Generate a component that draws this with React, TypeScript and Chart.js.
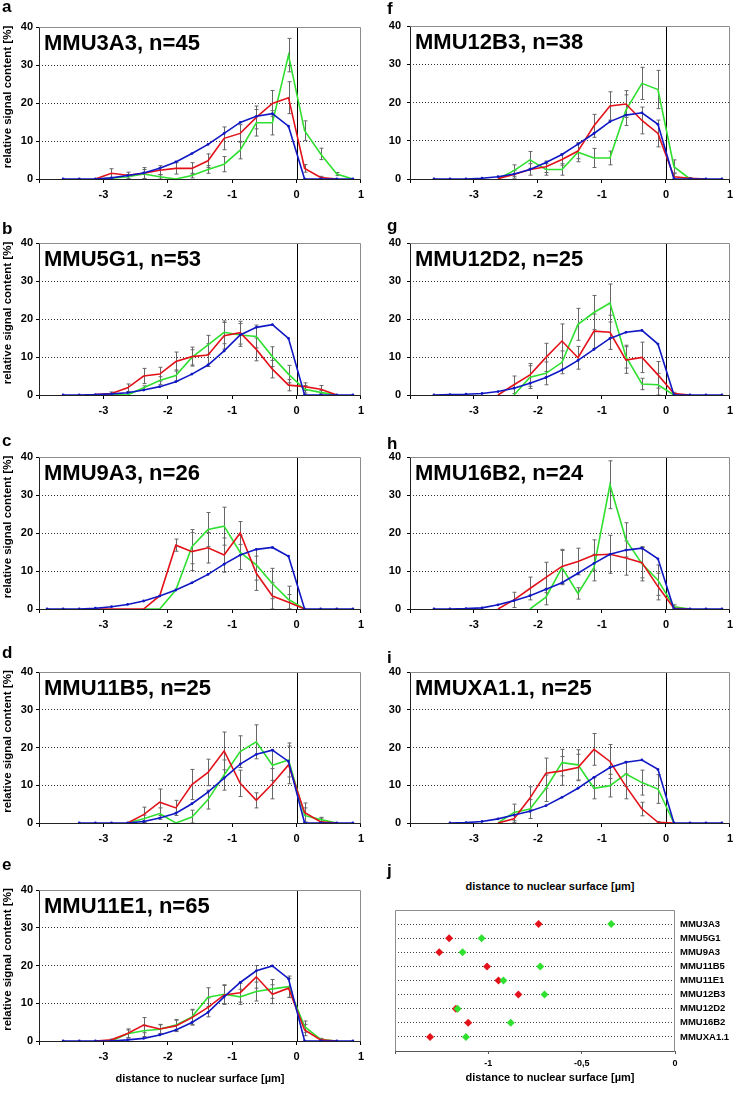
import React, { useEffect, useRef } from 'react';
import { Chart, registerables } from 'chart.js';
Chart.register(...registerables);

const FONT = '"Liberation Sans", Arial, Helvetica, sans-serif';
const RED = '#e3121a';
const GREEN = '#30e030';
const BLUE = '#1018c4';
const ERR_COLOR = '#666666';

// bin centres (µm), shared x positions of all profile points
const binCenters = [-3.875, -3.625, -3.375, -3.125, -2.875, -2.625, -2.375, -2.125, -1.875, -1.625, -1.375, -1.125, -0.875, -0.625, -0.375, -0.125, 0.125, 0.375, 0.625, 0.875];
const yTickValues = [0, 10, 20, 30, 40];
const xTickLabels = ['-3', '-2', '-1', '0', '1'];

const titles: Record<string, string> = {
  a: 'MMU3A3, n=45', b: 'MMU5G1, n=53', c: 'MMU9A3, n=26', d: 'MMU11B5, n=25', e: 'MMU11E1, n=65',
  f: 'MMU12B3, n=38', g: 'MMU12D2, n=25', h: 'MMU16B2, n=24', i: 'MMUXA1.1, n=25',
};

// ---- panel a
const aBlue = [null, 0, 0, 0, 0.3, 0.9, 1.6, 2.8, 4.5, 6.7, 9.1, 12.0, 14.9, 16.5, 17.2, 13.9, 0, 0, 0, 0];
const aRed = [null, null, null, 0, 1.5, 1.0, 1.5, 2.3, 2.8, 2.8, 4.8, 10.7, 12.0, 16.2, 19.9, 21.4, 2.8, 0.4, 0, null];
const aGreen = [null, null, null, 0, 0.2, 0.6, 1.3, 0.6, 0, 0.9, 2.5, 3.9, 7.6, 14.8, 14.8, 32.6, 12.7, 6.6, 1.3, 0];
const aRedErr = [0, 0, 0, 0, 1.2, 0.8, 1.5, 1.2, 1.5, 1.5, 1.8, 3.0, 2.3, 3.0, 3.4, 4.2, 1.0, 0.3, 0, 0];
const aGreenErr = [0, 0, 0, 0, 0, 0.6, 1.2, 0.6, 0, 0.6, 1.0, 2.0, 2.3, 3.5, 3.2, 4.4, 2.6, 1.5, 0.4, 0];
// ---- panel b
const bBlue = [null, 0, 0, 0.1, 0.3, 0.6, 1.3, 2.2, 3.5, 5.5, 7.9, 11.6, 15.8, 17.8, 18.5, 14.9, 0, 0, 0, 0];
const bRed = [null, null, null, 0.1, 0.4, 1.9, 5.0, 5.5, 8.8, 10.1, 10.5, 15.6, 16.4, 12.0, 6.8, 2.6, 2.2, 1.5, 0, null];
const bGreen = [null, null, null, null, 0.1, 0, 1.9, 3.8, 5.1, 9.9, 13.2, 16.5, 15.8, 15.4, 10.1, 5.5, 1.5, 0.7, 0, null];
const bRedErr = [0, 0, 0, 0, 0.4, 1.0, 2.0, 1.8, 2.5, 2.5, 3.0, 3.5, 3.0, 3.0, 2.3, 1.5, 1.0, 1.0, 0, 0];
const bGreenErr = [0, 0, 0, 0, 0, 0, 0.5, 1.0, 1.5, 2.0, 2.5, 3.0, 3.0, 3.0, 2.6, 2.3, 1.0, 0.5, 0, 0];
// ---- panel c
const cBlue = [0, 0, 0, 0.2, 0.6, 1.2, 2.1, 3.4, 5.0, 6.9, 9.1, 11.8, 14.2, 15.7, 16.2, 13.9, 0, 0, 0, 0];
const cRed = [null, null, null, 0, 0, 0, 0, 3.5, 16.8, 15.1, 16.1, 14.2, 20.0, 9.4, 3.4, 1.8, 0, null, null, null];
const cGreen = [null, null, null, null, null, null, 0, 0, 5.0, 16.4, 20.9, 21.8, 14.9, 11.6, 6.7, 2.5, 0, null, null, null];
const cRedErr = [0, 0, 0, 0, 0, 0, 0, 0, 1.6, 5.0, 4.0, 4.5, 3.0, 4.5, 3.5, 2.0, 0, 0, 0, 0];
const cGreenErr = [0, 0, 0, 0, 0, 0, 0, 0, 0, 4.5, 4.5, 5.0, 4.5, 4.0, 4.0, 3.5, 0, 0, 0, 0];
// ---- panel d
const dBlue = [null, null, 0, 0, 0, 0, 0.4, 1.3, 2.6, 5.1, 8.2, 11.9, 15.6, 18.2, 19.3, 16.3, 0, 0, 0, 0];
const dRed = [null, null, null, null, null, 0, 2.2, 5.5, 4.0, 10.2, 13.4, 19.1, 10.5, 6.0, 10.4, 15.4, 2.8, 0.3, 0, null];
const dGreen = [null, null, null, null, null, 0, 1.1, 2.5, 0, 1.6, 6.2, 12.7, 18.9, 21.5, 15.3, 16.7, 2.0, 0.9, 0, null];
const dRedErr = [0, 0, 0, 0, 0, 0, 2.0, 3.5, 2.0, 4.0, 3.5, 5.0, 3.5, 2.0, 4.0, 5.0, 2.5, 1.0, 0, 0];
const dGreenErr = [0, 0, 0, 0, 0, 0, 1.0, 1.5, 0, 1.8, 2.5, 4.0, 4.2, 4.5, 4.0, 4.5, 2.0, 0.6, 0, 0];
// ---- panel e
const eBlue = [null, 0, 0, 0, 0, 0.3, 0.7, 1.6, 2.9, 4.9, 7.6, 11.7, 15.5, 18.6, 19.9, 16.5, 0, 0, 0, 0];
const eRed = [null, null, null, 0, 0.3, 2.0, 4.2, 3.2, 4.0, 6.2, 8.9, 12.2, 12.8, 17.0, 12.4, 14.0, 2.9, 0.3, 0, null];
const eGreen = [null, null, null, null, 0, 1.9, 2.7, 3.1, 4.2, 6.4, 11.6, 12.4, 11.7, 13.1, 13.8, 14.4, 3.8, 0.4, 0, null];
const eRedErr = [0, 0, 0, 0, 0.2, 1.2, 2.0, 1.2, 1.5, 2.0, 2.5, 2.5, 2.5, 3.0, 2.5, 2.5, 1.5, 0.2, 0, 0];
const eGreenErr = [0, 0, 0, 0, 0, 1.0, 1.5, 1.2, 1.5, 2.0, 2.5, 2.5, 2.0, 2.5, 2.5, 2.8, 1.5, 0.3, 0, 0];
// ---- panel f
const fBlue = [null, 0, 0, 0, 0.2, 0.6, 1.3, 2.5, 4.3, 6.4, 9.1, 11.9, 15.0, 16.7, 17.3, 14.3, 0, 0, 0, 0];
const fRed = [null, null, null, null, null, 0.1, 1.2, 2.5, 3.2, 5.1, 7.3, 13.9, 19.1, 19.6, 15.3, 11.9, 0.6, 0.2, 0, null];
const fGreen = [null, null, null, null, null, 0, 2.2, 5.0, 2.5, 2.5, 7.0, 5.5, 5.5, 18.0, 25.0, 23.4, 3.2, 0, null, null];
const fRedErr = [0, 0, 0, 0, 0, 0, 1.0, 1.5, 1.5, 1.5, 2.0, 3.0, 3.7, 3.5, 3.5, 3.5, 1.0, 0.2, 0, 0];
const fGreenErr = [0, 0, 0, 0, 0, 0, 1.5, 2.2, 1.5, 1.5, 2.5, 2.5, 1.8, 4.0, 4.2, 5.0, 1.8, 0, 0, 0];
// ---- panel g
const gBlue = [null, 0, 0.1, 0.2, 0.4, 0.9, 1.8, 3.1, 4.6, 6.6, 9.1, 12.0, 14.9, 16.5, 17.0, 13.4, 0, 0, 0, 0];
const gRed = [null, null, null, null, null, 0, 2.7, 5.3, 9.9, 14.2, 9.8, 16.8, 16.5, 9.2, 9.9, 5.3, 0.4, 0, null, null];
const gGreen = [null, null, null, null, null, null, 0, 4.7, 5.7, 8.6, 18.6, 21.7, 24.2, 10.1, 2.9, 2.7, 0, null, null, null];
const gRedErr = [0, 0, 0, 0, 0, 0, 2.3, 3.0, 3.7, 4.5, 3.0, 4.5, 4.5, 3.5, 4.0, 3.5, 0.3, 0, 0, 0];
const gGreenErr = [0, 0, 0, 0, 0, 0, 0, 3.0, 3.0, 3.0, 4.2, 4.5, 5.0, 3.0, 1.5, 3.0, 0, 0, 0, 0];
// ---- panel h
const hBlue = [null, 0, 0, 0.1, 0.3, 1.1, 2.2, 3.5, 5.2, 6.9, 9.4, 12.0, 14.4, 15.5, 16.0, 13.2, 0, 0, 0, 0];
const hRed = [null, null, null, null, null, 0, 2.4, 5.4, 8.3, 11.2, 12.5, 14.2, 14.4, 13.4, 12.2, 5.9, 0.2, 0, null, null];
const hGreen = [null, null, null, null, null, null, null, 0, 3.1, 10.9, 4.1, 10.9, 32.7, 18.2, 11.9, 7.6, 0.6, 0, null, null];
const hRedErr = [0, 0, 0, 0, 0, 0, 2.0, 3.0, 4.0, 4.5, 3.5, 4.0, 5.0, 4.5, 4.0, 3.5, 0.3, 0, 0, 0];
const hGreenErr = [0, 0, 0, 0, 0, 0, 0, 0, 2.0, 4.5, 1.5, 3.5, 6.3, 4.5, 4.5, 4.0, 0.5, 0, 0, 0];
// ---- panel i
const iBlue = [null, null, 0, 0.1, 0.4, 1.1, 2.1, 3.1, 4.6, 6.8, 9.2, 12.1, 14.7, 16.1, 16.7, 14.2, 0, 0, 0, 0];
const iRed = [null, null, null, null, null, 0, 1.1, 6.6, 13.2, 13.8, 14.7, 19.5, 16.3, 9.7, 3.7, 0.2, 0, null, null, null];
const iGreen = [null, null, null, null, null, 0, 2.8, 3.7, 9.2, 16.0, 15.4, 9.2, 9.9, 13.0, 10.7, 9.0, 0, null, null, null];
const iRedErr = [0, 0, 0, 0, 0, 0, 1.0, 3.0, 4.0, 3.8, 3.5, 4.2, 4.5, 3.3, 1.8, 0.2, 0, 0, 0, 0];
const iGreenErr = [0, 0, 0, 0, 0, 0, 2.2, 2.5, 3.5, 3.5, 4.0, 2.8, 3.0, 3.3, 3.3, 3.8, 0, 0, 0, 0];

// ---- panel j (median distances)
const jCategories = ['MMU3A3', 'MMU5G1', 'MMU9A3', 'MMU11B5', 'MMU11E1', 'MMU12B3', 'MMU12D2', 'MMU16B2', 'MMUXA1.1'];
const jRed = [-0.731, -1.210, -1.263, -1.007, -0.946, -0.839, -1.174, -1.108, -1.312];
const jGreen = [-0.342, -1.036, -1.138, -0.722, -0.919, -0.699, -1.165, -0.880, -1.120];
const xAxisTitle = 'distance to nuclear surface [µm]';
const yAxisTitle = 'relative signal content [%]';

const seriesByPanel: Record<string, any> = {
  a: { blue: aBlue, red: aRed, green: aGreen, redErr: aRedErr, greenErr: aGreenErr },
  b: { blue: bBlue, red: bRed, green: bGreen, redErr: bRedErr, greenErr: bGreenErr },
  c: { blue: cBlue, red: cRed, green: cGreen, redErr: cRedErr, greenErr: cGreenErr },
  d: { blue: dBlue, red: dRed, green: dGreen, redErr: dRedErr, greenErr: dGreenErr },
  e: { blue: eBlue, red: eRed, green: eGreen, redErr: eRedErr, greenErr: eGreenErr },
  f: { blue: fBlue, red: fRed, green: fGreen, redErr: fRedErr, greenErr: fGreenErr },
  g: { blue: gBlue, red: gRed, green: gGreen, redErr: gRedErr, greenErr: gGreenErr },
  h: { blue: hBlue, red: hRed, green: hGreen, redErr: hRedErr, greenErr: hGreenErr },
  i: { blue: iBlue, red: iRed, green: iGreen, redErr: iRedErr, greenErr: iGreenErr },
};

// layout (page pixel positions of plot areas)
const panelLayout = [
  { key: 'a', col: 0, plotTop: 27, plotBottom: 179, letterY: 12 },
  { key: 'b', col: 0, plotTop: 243, plotBottom: 395, letterY: 234 },
  { key: 'c', col: 0, plotTop: 457, plotBottom: 609, letterY: 446 },
  { key: 'd', col: 0, plotTop: 672, plotBottom: 823, letterY: 658 },
  { key: 'e', col: 0, plotTop: 890, plotBottom: 1041, letterY: 870, xTitle: true },
  { key: 'f', col: 1, plotTop: 26, plotBottom: 179, letterY: 14 },
  { key: 'g', col: 1, plotTop: 243, plotBottom: 395, letterY: 231 },
  { key: 'h', col: 1, plotTop: 457, plotBottom: 609, letterY: 449 },
  { key: 'i', col: 1, plotTop: 672, plotBottom: 823, letterY: 663 },
];

function LinePanel(props: any) {
  const { key2, col, plotTop, plotBottom, xTitle } = props;
  const ref = useRef<HTMLCanvasElement>(null);
  const canvasLeft = col === 0 ? 0 : 369;
  const plotLeft = col === 0 ? 39 : 410;
  const plotRight = col === 0 ? 366 : 736;
  const W = 369;
  const canvasTop = plotTop - 22;
  const canvasH = xTitle ? 1106 - canvasTop : plotBottom - canvasTop + 30;

  useEffect(() => {
    const s = seriesByPanel[key2];
    const pts = (arr: any[]) => binCenters.map((x, i) => ({ x, y: arr[i] }));
    const decor = {
      id: 'decor',
      beforeDatasetsDraw(chart: any) {
        const { ctx, chartArea: a, scales } = chart;
        const xs = scales.x, ys = scales.y;
        ctx.save();
        // zero line
        const x0 = Math.round(xs.getPixelForValue(0)) + 0.5;
        ctx.strokeStyle = '#000';
        ctx.lineWidth = 1;
        ctx.beginPath();
        ctx.moveTo(x0, a.top);
        ctx.lineTo(x0, a.bottom);
        ctx.stroke();
        // error bars
        ctx.strokeStyle = ERR_COLOR;
        ctx.lineWidth = 1;
        const bars = (vals: any[], errs: number[]) => {
          binCenters.forEach((xv, i) => {
            const v = vals[i];
            const e = errs[i];
            if (v == null || !e) return;
            const px = Math.round(xs.getPixelForValue(xv)) + 0.5;
            const top = ys.getPixelForValue(v + e);
            const bot = Math.min(a.bottom, ys.getPixelForValue(Math.max(0, v - e)));
            ctx.beginPath();
            ctx.moveTo(px, top);
            ctx.lineTo(px, bot);
            ctx.moveTo(px - 2, top);
            ctx.lineTo(px + 2, top);
            ctx.moveTo(px - 2, bot);
            ctx.lineTo(px + 2, bot);
            ctx.stroke();
          });
        };
        bars(s.red, s.redErr);
        bars(s.green, s.greenErr);
        ctx.restore();
      },
      afterDraw(chart: any) {
        const { ctx, chartArea: a } = chart;
        ctx.save();
        const l = Math.round(a.left) + 0.5, r = Math.round(a.right) - 0.5;
        const t = Math.round(a.top) + 0.5, b = Math.round(a.bottom) + 0.5;
        ctx.lineWidth = 1;
        ctx.strokeStyle = '#8c8c8c';
        ctx.beginPath();
        ctx.moveTo(l, t); ctx.lineTo(r, t); ctx.lineTo(r, b);
        ctx.stroke();
        ctx.strokeStyle = '#222';
        ctx.beginPath();
        ctx.moveTo(l, t); ctx.lineTo(l, b); ctx.lineTo(r, b);
        ctx.stroke();
        // panel title
        ctx.fillStyle = '#000';
        ctx.font = `bold 22px ${FONT}`;
        ctx.textAlign = 'left';
        ctx.textBaseline = 'alphabetic';
        ctx.fillText(titles[key2], a.left + 5, a.top + 23);
        if (col === 0) {
          ctx.save();
          ctx.font = `bold 11.5px ${FONT}`;
          ctx.translate(8, (a.top + a.bottom) / 2 - 6);
          ctx.rotate(-Math.PI / 2);
          ctx.textAlign = 'center';
          ctx.textBaseline = 'middle';
          ctx.fillText(yAxisTitle, 0, 0);
          ctx.restore();
        }
        if (xTitle) {
          ctx.font = `bold 11px ${FONT}`;
          ctx.textAlign = 'center';
          ctx.textBaseline = 'middle';
          ctx.fillText(xAxisTitle, (a.left + a.right) / 2, 1079 - canvasTop);
        }
        ctx.restore();
      },
    };

    const chart = new Chart(ref.current as HTMLCanvasElement, {
      type: 'line',
      data: {
        datasets: [
          { data: pts(s.blue), borderColor: BLUE, backgroundColor: BLUE, borderWidth: 1.6, pointRadius: 1.4, pointBorderWidth: 0, pointBackgroundColor: BLUE, tension: 0, spanGaps: false },
          { data: pts(s.red), borderColor: RED, backgroundColor: RED, borderWidth: 1.6, pointRadius: 0, tension: 0, spanGaps: false },
          { data: pts(s.green), borderColor: GREEN, backgroundColor: GREEN, borderWidth: 1.6, pointRadius: 0, tension: 0, spanGaps: false },
        ],
      },
      options: {
        responsive: false,
        animation: false,
        devicePixelRatio: 1,
        events: [],
        layout: { padding: { left: 0, top: plotTop - canvasTop, right: canvasLeft + W - plotRight, bottom: 0 } },
        plugins: { legend: { display: false }, tooltip: { enabled: false }, title: { display: false } },
        scales: {
          x: {
            type: 'linear', min: -4, max: 1,
            afterFit: (sc: any) => { sc.height = canvasTop + canvasH - plotBottom; },
            ticks: {
              stepSize: 1, autoSkip: false, maxRotation: 0, padding: 5, color: '#000',
              font: { family: FONT, size: 11, weight: 'bold' },
              callback: (v: any) => (v === -4 ? '' : xTickLabels[v + 3] ?? String(v)),
            },
            grid: { drawOnChartArea: false, drawTicks: true, tickLength: 4, tickColor: '#000', color: '#000' },
            border: { display: false },
          },
          y: {
            type: 'linear', min: 0, max: 40,
            afterFit: (sc: any) => { sc.width = plotLeft - canvasLeft; },
            afterBuildTicks: (sc: any) => { sc.ticks = yTickValues.map((v) => ({ value: v })); },
            ticks: { padding: col === 0 ? 3 : 6, color: '#000', font: { family: FONT, size: 11, weight: 'bold' } },
            grid: {
              color: (c: any) => (c.tick && c.tick.value > 0 && c.tick.value < 40 ? '#333' : 'rgba(0,0,0,0)'),
              tickColor: '#000', tickLength: 3, lineWidth: 1,
            },
            border: { display: false, dash: [1, 2] },
          },
        },
      } as any,
      plugins: [decor],
    });
    return () => chart.destroy();
  }, []);

  return (
    <canvas
      ref={ref}
      width={W}
      height={canvasH}
      style={{ position: 'absolute', left: canvasLeft, top: canvasTop, width: W, height: canvasH }}
    />
  );
}

function DotPanel() {
  const ref = useRef<HTMLCanvasElement>(null);
  const canvasLeft = 369, canvasTop = 895, W = 369, H = 211;
  const boxLeft = 395, boxRight = 675, boxTop = 910, boxBottom = 1051;
  useEffect(() => {
    const frame = {
      id: 'frameJ',
      afterDraw(chart: any) {
        const { ctx, chartArea: a } = chart;
        ctx.save();
        const l = Math.round(a.left) + 0.5, r = Math.round(a.right) - 0.5;
        const t = Math.round(a.top) + 0.5, b = Math.round(a.bottom) + 0.5;
        ctx.lineWidth = 1;
        ctx.strokeStyle = '#8c8c8c';
        ctx.beginPath();
        ctx.moveTo(l, b); ctx.lineTo(l, t); ctx.lineTo(r, t); ctx.lineTo(r, b);
        ctx.stroke();
        ctx.strokeStyle = '#555';
        ctx.beginPath();
        ctx.moveTo(l, b); ctx.lineTo(r, b);
        ctx.stroke();
        ctx.restore();
      },
    };
    const chart = new Chart(ref.current as HTMLCanvasElement, {
      type: 'scatter',
      data: {
        datasets: [
          { data: jGreen.map((x, i) => ({ x, y: i + 1 })), order: 0, pointStyle: 'rectRot', pointRadius: 4, pointBorderWidth: 0, backgroundColor: GREEN, borderColor: GREEN },
          { data: jRed.map((x, i) => ({ x, y: i + 1 })), order: 1, pointStyle: 'rectRot', pointRadius: 4, pointBorderWidth: 0, backgroundColor: RED, borderColor: RED },
        ],
      },
      options: {
        responsive: false,
        animation: false,
        devicePixelRatio: 1,
        events: [],
        layout: { padding: { left: boxLeft - canvasLeft, top: boxTop - canvasTop, right: 0, bottom: 0 } },
        plugins: { legend: { display: false }, tooltip: { enabled: false } },
        scales: {
          x: {
            type: 'linear', min: -1.5, max: 0,
            afterFit: (sc: any) => { sc.height = canvasTop + H - boxBottom; },
            ticks: {
              stepSize: 0.5, autoSkip: false, maxRotation: 0, padding: 4, color: '#000',
              font: { family: FONT, size: 9, weight: 'bold' },
              callback: (v: any) => (v === -1.5 ? '' : String(v).replace('.', ',')),
            },
            grid: { drawOnChartArea: false, drawTicks: true, tickLength: 3, tickColor: '#555' },
            border: { display: false },
          },
          y: {
            type: 'linear', min: 0, max: 10, reverse: true, position: 'right',
            afterFit: (sc: any) => { sc.width = canvasLeft + W - boxRight; },
            ticks: {
              stepSize: 1, autoSkip: false, padding: 5, color: '#000',
              font: { family: FONT, size: 9.5, weight: 'bold' },
              callback: (v: any) => (v >= 1 && v <= 9 ? jCategories[v - 1] : ''),
            },
            grid: {
              drawTicks: false,
              color: (c: any) => (c.tick && c.tick.value >= 1 && c.tick.value <= 9 ? '#444' : 'rgba(0,0,0,0)'),
            },
            border: { display: false, dash: [1, 2] },
          },
        },
      } as any,
      plugins: [frame],
    });
    return () => chart.destroy();
  }, []);
  return (
    <canvas
      ref={ref}
      width={W}
      height={H}
      style={{ position: 'absolute', left: canvasLeft, top: canvasTop, width: W, height: H }}
    />
  );
}

function Letter({ ch, x, baseline }: any) {
  return (
    <div
      style={{
        position: 'absolute', left: x, top: baseline - 14.4, fontFamily: FONT, fontWeight: 'bold',
        fontSize: 17, lineHeight: '17px', color: '#000',
      }}
    >
      {ch}
    </div>
  );
}

export default function App() {
  return (
    <div style={{ position: 'absolute', left: 0, top: 0, width: 738, height: 1106, background: '#fff', overflow: 'hidden' }}>
      {panelLayout.map((p) => (
        <LinePanel key={p.key} key2={p.key} col={p.col} plotTop={p.plotTop} plotBottom={p.plotBottom} xTitle={!!(p as any).xTitle} />
      ))}
      <DotPanel />
      {panelLayout.map((p) => (
        <Letter key={'L' + p.key} ch={p.key} x={p.col === 0 ? 2 : 387} baseline={p.letterY} />
      ))}
      <Letter ch="j" x={387} baseline={876} />
      <div style={{ position: 'absolute', left: 369, width: 362, top: 879.5, textAlign: 'center', fontFamily: FONT, fontWeight: 'bold', fontSize: 11, lineHeight: '13px' }}>
        {xAxisTitle}
      </div>
      <div style={{ position: 'absolute', left: 369, width: 362, top: 1070.5, textAlign: 'center', fontFamily: FONT, fontWeight: 'bold', fontSize: 11, lineHeight: '13px' }}>
        {xAxisTitle}
      </div>
    </div>
  );
}
